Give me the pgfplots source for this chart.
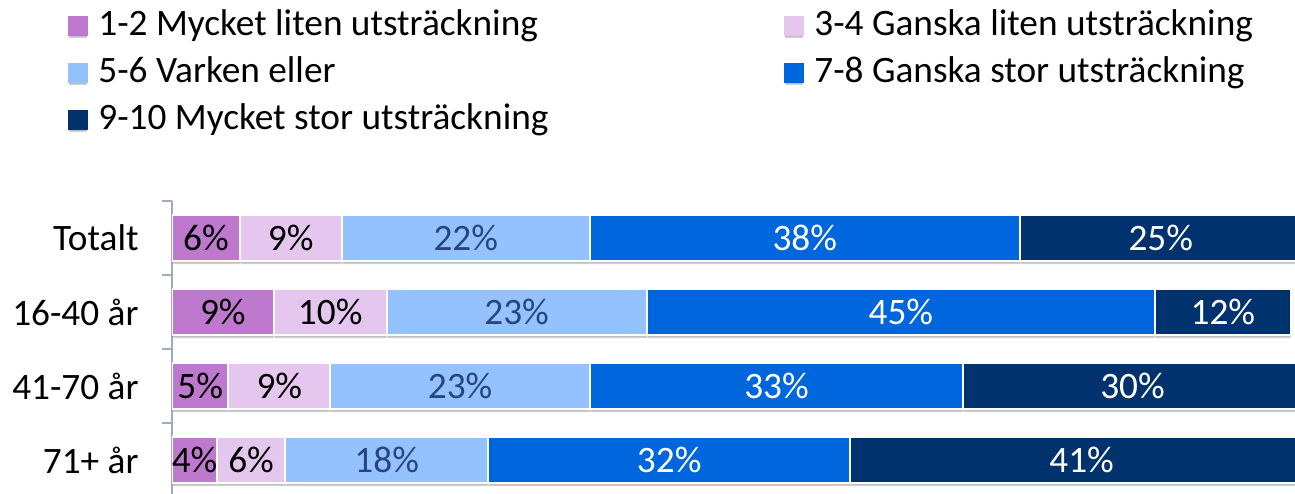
\documentclass[border=0pt]{standalone}
\usepackage{fontspec}
\setmainfont{Carlito}
\usepackage{pgfplots}
\pgfplotsset{compat=1.18}
\usepackage{pgfplotstable}
\usetikzlibrary{shadows,calc}

\definecolor{c1}{RGB}{190,120,206}
\definecolor{c2}{RGB}{228,198,238}
\definecolor{c3}{RGB}{148,194,255}
\definecolor{c4}{RGB}{0,102,221}
\definecolor{c5}{RGB}{0,50,110}
\definecolor{lab3}{RGB}{38,70,125}
\definecolor{axisc}{RGB}{160,170,188}

% one row per group, one column per answer class (per cent)
\pgfplotstableread{
idx s1 s2 s3 s4 s5
0   6  9  22 38 25
1   9  10 23 45 12
2   5  9  23 33 30
3   4  6  18 32 41
}\data

\newcommand\legsq[1]{\addlegendimage{legend image code/.code={\fill[#1] (0pt,-4.5pt) rectangle (9pt,4.5pt);}}}

\pgfplotsset{frame/.style={scale only axis, width=565pt, height=148pt,
  xmin=0, xmax=100, ymin=-0.5, ymax=3.5, y dir=reverse}}

\begin{document}
\begin{tikzpicture}[font=\fontsize{18.65}{22}\selectfont]
\begin{axis}[name=ax, frame,
  xbar stacked, bar width=23pt,
  axis x line=none, axis y line*=left,
  xtick=\empty,
  ytick={0,1,2,3}, yticklabels={Totalt,16-40 år,41-70 år,71+ år},
  major tick length=0pt,
  minor ytick={-0.5,0.5,1.5,2.5,3.5}, minor tick length=5pt, tick align=outside,
  axis line style={draw=axisc, line width=0.7pt},
  tick style={draw=axisc, line width=0.7pt},
  yticklabel style={inner sep=0pt, xshift=-16.5pt},
  every axis plot/.append style={draw=white, line width=1pt,
    drop shadow={shadow xshift=0pt, shadow yshift=-1.5pt, opacity=0.25, fill=black}},
  legend columns=2,
  legend style={draw=none, fill=none, at={(axis description cs:0,1)}, anchor=north west,
    xshift=-52pt, yshift=96pt, inner sep=0pt, cells={anchor=west},
    nodes={inner sep=0pt, text height=13pt, text depth=4pt}, row sep=6.5pt,
    /tikz/every odd column/.append style={column sep=5pt},
    /tikz/every even column/.append style={column sep=118pt}},
]
\addplot[fill=c1, forget plot] table[x=s1,y=idx]{\data};
\addplot[fill=c2, forget plot] table[x=s2,y=idx]{\data};
\addplot[fill=c3, forget plot] table[x=s3,y=idx]{\data};
\addplot[fill=c4, forget plot] table[x=s4,y=idx]{\data};
\addplot[fill=c5, forget plot] table[x=s5,y=idx]{\data};
\legsq{c1}\addlegendentry{1-2 Mycket liten utsträckning}
\legsq{c2}\addlegendentry{3-4 Ganska liten utsträckning}
\legsq{c3}\addlegendentry{5-6 Varken eller}
\legsq{c4}\addlegendentry{7-8 Ganska stor utsträckning}
\legsq{c5}\addlegendentry{9-10 Mycket stor utsträckning}
\end{axis}
% value labels, centred in each segment
\begin{axis}[frame, at={(ax.south west)}, anchor=south west, hide axis,
  /pgf/number format/assume math mode=true,
  nodes near coords={\pgfmathprintnumber{\pgfplotspointmeta}\%},
  nodes near coords align={center},
  every node near coord/.append style={anchor=center, inner sep=0pt}]
\addplot[only marks, mark=none, point meta=\thisrow{s1},
  every node near coord/.append style={text=black}]
  table[x expr=\thisrow{s1}/2, y=idx]{\data};
\addplot[only marks, mark=none, point meta=\thisrow{s2},
  every node near coord/.append style={text=black}]
  table[x expr=\thisrow{s1}+\thisrow{s2}/2, y=idx]{\data};
\addplot[only marks, mark=none, point meta=\thisrow{s3},
  every node near coord/.append style={text=lab3}]
  table[x expr=\thisrow{s1}+\thisrow{s2}+\thisrow{s3}/2, y=idx]{\data};
\addplot[only marks, mark=none, point meta=\thisrow{s4},
  every node near coord/.append style={text=white}]
  table[x expr=\thisrow{s1}+\thisrow{s2}+\thisrow{s3}+\thisrow{s4}/2, y=idx]{\data};
\addplot[only marks, mark=none, point meta=\thisrow{s5},
  every node near coord/.append style={text=white}]
  table[x expr=\thisrow{s1}+\thisrow{s2}+\thisrow{s3}+\thisrow{s4}+\thisrow{s5}/2, y=idx]{\data};
\end{axis}
\pgfresetboundingbox
\useasboundingbox ($(ax.south west)+(-86pt,2pt)$) rectangle ($(ax.south west)+(561.5pt,248.5pt)$);
\end{tikzpicture}
\end{document}
